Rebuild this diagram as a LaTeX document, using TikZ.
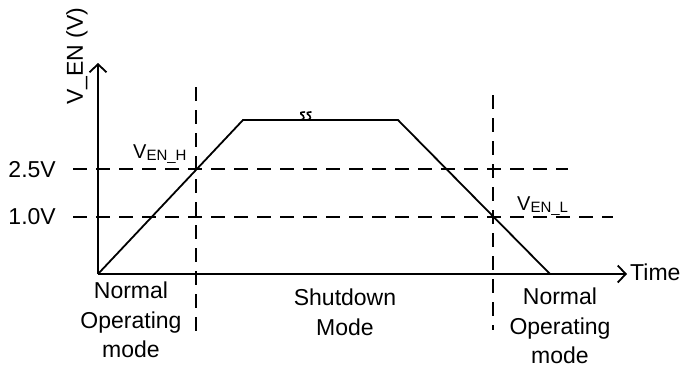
\documentclass[tikz,border=0pt]{standalone}
\usepackage{fontspec}
\setmainfont{Liberation Sans}
\usetikzlibrary{arrows.meta}
\begin{document}
\begin{tikzpicture}[x=1pt,y=-1pt,
  axis/.style={line width=1.8pt,-{Straight Barb[length=8pt,width=17pt,line width=1.8pt]}},
  sig/.style={line width=1.8pt,line join=miter},
  brk/.style={line width=1.6pt,line cap=round},
  guide/.style={line width=1.8pt,dash pattern=on 14pt off 9pt},
  lbl/.style={font=\fontsize{23}{29.5}\selectfont,inner sep=0pt,align=center},
  sublbl/.style={inner sep=0pt,anchor=base west}]
\useasboundingbox (0,0) rectangle (683,368);
% axes
\coordinate (O) at (98,274);
\coordinate (ytip) at (98,63);
\coordinate (xtip) at (627,274);
\draw[axis] (O) -- (ytip);
\draw[axis] (O) -- (xtip);
% signal
\coordinate (A) at (243,120);
\coordinate (B) at (398,120);
\coordinate (C) at (550,274);
\draw[sig] (O) -- (A) -- (B) -- (C);
% break mark
\coordinate (k1) at (300,120);
\coordinate (k2) at (306.5,120);
\draw[brk] (k1) .. controls +(5,0) and +(4,2) .. ++(1,-6) .. controls +(-2,-1) and +(-3,0) .. ++(3.5,-2);
\draw[brk] (k2) .. controls +(5,0) and +(4,2) .. ++(1,-6) .. controls +(-2,-1) and +(-3,0) .. ++(3.5,-2);
% guides
\coordinate (h1a) at (73,169);  \coordinate (h1b) at (568,169);
\coordinate (h2a) at (73,217);  \coordinate (h2b) at (613,217);
\coordinate (v1a) at (196,87);  \coordinate (v1b) at (196,340);
\coordinate (v2a) at (493,95);  \coordinate (v2b) at (493,330);
\draw[guide] (h1a) -- (h1b);
\draw[guide] (h2a) -- (h2b);
\draw[guide] (v1a) -- (v1b);
\draw[guide] (v2a) -- (v2b);
% labels
\node[lbl,anchor=east] (l25) at (56,170) {2.5V};
\node[lbl,anchor=east] (l10) at (56,217) {1.0V};
\node[lbl,anchor=west] (time) at (630,272) {Time};
\node[lbl,rotate=90] (ylab) at (77,56) {V\_EN (V)};
\node[sublbl] (venh) at (133,158) {{\fontsize{20}{20}\selectfont V}\raisebox{-2pt}{\fontsize{15}{15}\selectfont EN\_H}};
\node[sublbl] (venl) at (517,210) {{\fontsize{20}{20}\selectfont V}\raisebox{-2pt}{\fontsize{15}{15}\selectfont EN\_L}};
\node[lbl,anchor=north] (m1) at (131,282) {Normal\\Operating\\mode};
\node[lbl,anchor=north] (m2) at (345,289) {Shutdown\\Mode};
\node[lbl,anchor=north] (m3) at (560,288) {Normal\\Operating\\mode};
\end{tikzpicture}
\end{document}
